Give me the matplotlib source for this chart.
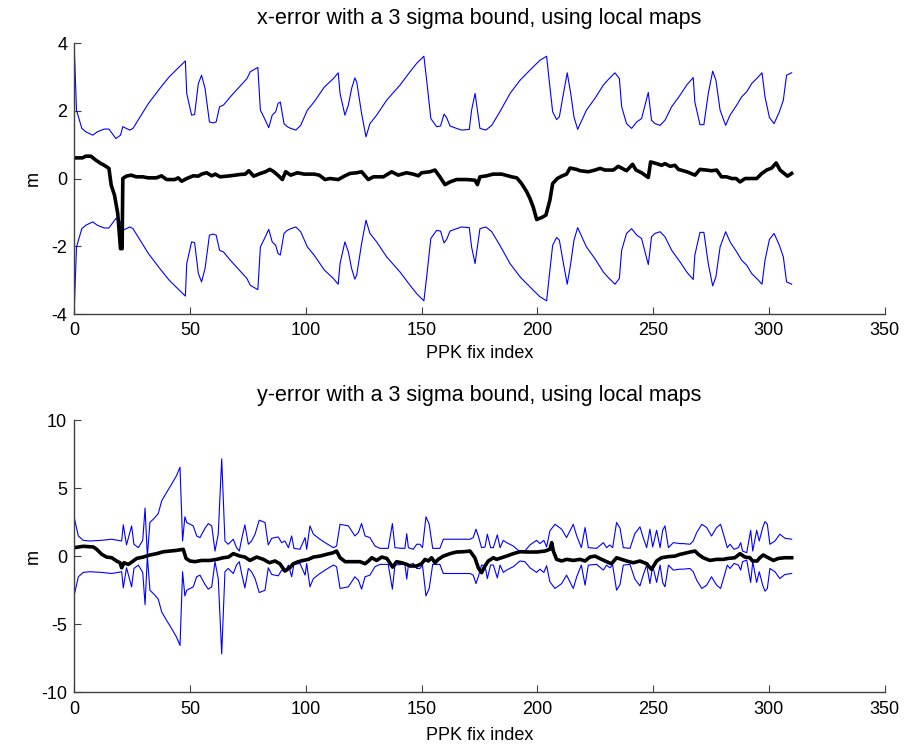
import matplotlib
matplotlib.use("Agg")
import matplotlib.pyplot as plt

# ---- x-error panel -------------------------------------------------------
# 3 sigma bound (upper half), read off the plot as breakpoints
sx_idx = [0, 1, 3.3, 5, 8, 10, 13, 15, 18, 20, 21, 24, 25.4, 28, 32, 37, 41, 44, 48,
          48.6, 50.7, 52, 53.6, 55, 56.5, 58.4, 60, 61.3, 62.8, 64.5, 67.4, 71.7, 74.6,
          76, 79.3, 80.4, 82.2, 84, 85.5, 87, 88, 89, 90.6, 92, 93.5, 95.7, 97.8, 100.7,
          103.6, 108, 111.9, 114.0, 114.8, 116.9, 118.4, 119.8, 121.2, 122.0, 124.1,
          126.0, 127.7, 130.6, 134.9, 140.7, 145.0, 147.9, 151.0, 152.2, 154.0, 156.5,
          158.2, 159.7, 160.8, 162.3, 165.1, 167.3, 170.6, 171.6, 173.1, 174.1, 175.2,
          177.8, 180.3, 183.8, 188.2, 192.5, 196.8, 201.1, 204.0, 205.1, 206.6, 208.3,
          209.5, 211.0, 212.9, 214.4, 215.8, 217.4, 221.2, 224.8, 228.5, 230.6, 233.5,
          235.4, 236.4, 238.5, 240.7, 242.9, 245, 246.5, 247.9, 249.3, 250.8, 253, 255.1,
          258, 261.6, 264.5, 267.3, 268, 270.2, 271.9, 273.8, 275.7, 277.1, 278.9, 281.3,
          283.2, 286.1, 288.2, 290.4, 292.5, 295.4, 297, 298.3, 300.2, 302.2, 304.5,
          306.2, 307.6, 309.8]
sx_val = [3.92, 2.02, 1.48, 1.38, 1.28, 1.38, 1.46, 1.46, 1.18, 1.28, 1.53, 1.43, 1.48,
          1.77, 2.21, 2.66, 3.0, 3.2, 3.47, 2.51, 1.87, 1.89, 2.8, 3.05, 2.66, 1.67, 1.64,
          1.67, 2.12, 2.17, 2.41, 2.73, 2.95, 3.15, 3.28, 2.02, 1.77, 1.5, 1.87, 1.97,
          2.21, 2.26, 1.62, 1.53, 1.48, 1.43, 1.57, 2.02, 2.26, 2.7, 2.95, 3.12, 2.51,
          1.87, 2.17, 2.66, 2.97, 2.85, 1.92, 1.23, 1.62, 1.87, 2.31, 2.76, 3.15, 3.4,
          3.61, 2.9, 1.77, 1.53, 1.55, 1.9, 1.8, 1.55, 1.48, 1.43, 1.45, 2.02, 2.51, 2.02,
          1.48, 1.43, 1.57, 1.97, 2.51, 2.9, 3.2, 3.49, 3.61, 2.9, 1.97, 1.74, 1.82, 2.41,
          3.12, 2.51, 1.82, 1.45, 2.02, 2.36, 2.76, 2.92, 3.12, 2.95, 2.12, 1.62, 1.48,
          1.67, 1.77, 2.17, 2.54, 1.72, 1.62, 1.57, 1.72, 2.12, 2.46, 2.76, 2.98, 2.26,
          1.59, 1.59, 2.51, 3.17, 2.9, 2.02, 1.57, 1.87, 2.17, 2.41, 2.56, 2.8, 3.0, 3.12,
          2.41, 1.8, 1.62, 1.97, 2.31, 3.05, 3.12]

# x-error
ex_idx = [0, 3.6, 5, 7.2, 9.4, 11.6, 13, 15, 16, 17.4, 18.8, 20, 20.7, 21, 22.5, 24.6,
          26.8, 29.7, 31.9, 35.5, 37.7, 39.9, 43.5, 44.9, 46.4, 48.6, 51.4, 53.6, 55,
          57.2, 59.4, 60.9, 63, 67.4, 71.7, 73.9, 75.4, 77.5, 80.4, 82.6, 84.5, 86.2,
          88.4, 89.9, 91.3, 93.5, 96.4, 99.3, 103.6, 105.8, 108.3, 110.4, 114.0, 116.9,
          119.1, 122.0, 124.1, 127.0, 129.2, 133.5, 137.1, 139.9, 143.5, 146.4, 148.6,
          150.0, 153.6, 155.8, 157.9, 160.1, 162.3, 165.1, 169.5, 173.1, 174.1, 175.2,
          178.1, 180.9, 184.6, 188.9, 191.1, 193.2, 195.4, 196.8, 198.2, 199.7, 201.9,
          203.7, 205.4, 206.6, 208.6, 210.5, 212.6, 214.1, 216.9, 218.4, 222, 224.9,
          227.1, 229.2, 232.8, 234.9, 238.5, 241.1, 242.6, 245, 247.9, 248.9, 251.5,
          253.7, 255.1, 257.3, 259.4, 260.9, 264.5, 268.1, 270.2, 273, 275.2, 277.4,
          279.5, 281.7, 283.9, 285.8, 287.5, 289.7, 294.7, 296.9, 299, 301.2, 303.1,
          304.8, 306.2, 308, 309.8]
ex_val = [0.61, 0.61, 0.66, 0.66, 0.54, 0.44, 0.39, 0.3, -0.2, -0.49, -1.03, -2.07, -2.07,
          0.0, 0.07, 0.1, 0.05, 0.05, 0.02, 0.02, 0.08, -0.03, -0.03, 0.02, -0.08, 0.0,
          0.08, 0.07, 0.13, 0.17, 0.08, 0.13, 0.05, 0.08, 0.12, 0.13, 0.23, 0.07, 0.15,
          0.2, 0.27, 0.2, 0.07, -0.03, 0.2, 0.1, 0.17, 0.13, 0.13, 0.1, -0.03, 0.0, -0.03,
          0.08, 0.15, 0.17, 0.2, -0.03, 0.05, 0.05, 0.2, 0.1, 0.17, 0.13, 0.08, 0.17, 0.2,
          0.25, 0.05, -0.18, -0.1, -0.03, -0.03, -0.05, -0.18, 0.05, 0.08, 0.13, 0.13,
          0.05, 0.02, -0.15, -0.39, -0.59, -0.84, -1.21, -1.15, -1.08, -0.64, -0.15, 0.0,
          0.07, 0.13, 0.31, 0.27, 0.23, 0.2, 0.25, 0.3, 0.25, 0.25, 0.36, 0.23, 0.42,
          0.25, 0.17, 0.03, 0.49, 0.44, 0.39, 0.44, 0.36, 0.39, 0.27, 0.2, 0.1, 0.27,
          0.25, 0.23, 0.25, 0.05, 0.05, 0.0, 0.0, -0.1, 0.0, 0.0, 0.15, 0.25, 0.31, 0.46,
          0.25, 0.17, 0.07, 0.15]

# ---- y-error panel -------------------------------------------------------
sy_idx = [0, 1.8, 3.9, 6.8, 11.9, 16.2, 20.5, 21.2, 22.6, 24.8, 25.8, 27.7, 29.6, 30.6,
          31.6, 32.7, 34.9, 36.3, 37.8, 39.9, 42.1, 44.2, 45.7, 46.8, 47.8, 48.6, 51.4,
          52.9, 54.3, 56.5, 57.9, 59.4, 60.8, 62.2, 63.7, 65.1, 66.5, 68.7, 70.1, 71.3,
          72.3, 73.7, 75.2, 76.6, 78.1, 79.9, 82.4, 83.8, 85.3, 88.1, 89.6, 91, 92.5,
          93.9, 94.9, 97.5, 99.7, 100.4, 101.8, 103.3, 106.1, 109, 111.9, 113.3, 114.8,
          118.4, 121.2, 122.7, 124.1, 125.6, 127.7, 129.9, 132, 135.6, 137.4, 138.5,
          141.4, 142.8, 143.6, 144.3, 146.4, 147.9, 149.3, 150.4, 151.9, 153.3, 154.8,
          157.9, 159.4, 170.9, 172.3, 173.5, 174.5, 175.9, 177.4, 178.4, 179.8, 181,
          182.7, 183.9, 185.3, 186.7, 189.6, 192.5, 194.6, 196.8, 199.7, 201.1, 202.8,
          204, 205.4, 207.6, 210.5, 212.6, 215.5, 217, 219, 220.6, 222, 225.6, 228.5,
          229.9, 231.3, 232.5, 234.2, 235.7, 237.1, 240, 242.1, 244.3, 245.7, 247.2,
          248.6, 249.8, 251.5, 253, 254.1, 255.1, 256.6, 258.7, 261.6, 263, 265.9, 267.3,
          268.8, 271, 273.1, 275.2, 277.4, 279.1, 281, 282, 283.2, 284.9, 286.8, 287.8,
          288.6, 290.4, 292.1, 293, 294.7, 295.8, 297.3, 298.3, 299.3, 300.4, 302.6,
          304.7, 306.9, 309.8]
sy_val = [2.86, 1.5, 1.18, 1.13, 1.18, 1.26, 1.13, 2.32, 0.84, 2.24, 0.89, 0.64, 1.18,
          3.55, 0.0, 2.49, 2.86, 3.15, 4.09, 4.7, 5.32, 5.94, 6.55, 1.13, 2.91, 2.49, 2.24,
          1.5, 1.38, 2.07, 2.41, 2.24, 0.39, 1.63, 7.17, 1.13, 0.89, 1.26, 0.64, 0.39,
          1.26, 2.32, 0.89, 1.13, 1.63, 2.66, 2.49, 0.84, 1.33, 1.43, 1.01, 1.13, 0.64,
          1.5, 0.59, 0.52, 1.38, 0.52, 2.24, 1.63, 1.26, 0.94, 0.64, 0.76, 2.36, 2.24,
          1.5, 1.75, 2.41, 1.5, 1.38, 0.76, 0.59, 0.59, 2.41, 0.64, 0.59, 0.59, 1.67, 0.64,
          0.52, 0.89, 0.89, 0.64, 2.91, 2.36, 0.59, 0.59, 1.26, 1.26, 1.38, 2.0, 1.5, 0.64,
          0.69, 1.63, 0.64, 0.64, 1.58, 0.64, 1.18, 1.01, 0.76, 0.34, 0.39, 0.84, 1.18,
          0.94, 1.18, 0.69, 1.87, 2.36, 2.0, 1.38, 2.36, 1.5, 0.64, 2.12, 0.64, 0.59, 1.01,
          0.64, 0.84, 0.64, 2.49, 2.07, 0.64, 0.59, 1.67, 2.17, 1.38, 0.64, 2.0, 0.69,
          1.92, 0.64, 1.92, 2.24, 0.64, 1.01, 0.94, 0.94, 0.89, 1.13, 1.75, 2.36, 2.12,
          1.5, 2.12, 2.36, 1.26, 0.64, 0.89, 0.52, 0.64, 1.01, 0.39, 0.27, 1.92, 0.39,
          1.92, 1.13, 2.12, 2.56, 2.36, 0.89, 1.13, 1.63, 1.33, 1.26]

ey_idx = [0, 3.9, 8.3, 9.7, 11.9, 14, 16.2, 18.3, 19.8, 20.5, 21.5, 23.4, 25.5, 27, 29.8,
          32.7, 35.6, 38.5, 41.4, 44.2, 47.1, 48.3, 50, 52.2, 55, 58.6, 61.5, 64.4, 66.6,
          68.7, 71.6, 73.7, 75.9, 78.8, 81.7, 84.3, 86.7, 88.8, 91, 93.1, 94.6, 96.8,
          98.9, 101.1, 103.3, 106.1, 109, 111.9, 113.3, 114.8, 117, 119.8, 123.4, 125.6,
          127.1, 128.5, 130.6, 132.8, 135, 137.5, 139.2, 141.4, 143.6, 145, 147.9, 150,
          151.5, 152.9, 154.3, 155.8, 157.2, 159.4, 162.3, 165.1, 168, 170.9, 173, 174.5,
          175.9, 177.4, 178.8, 181, 182.4, 184.6, 186.7, 189.6, 192.5, 196.1, 199.7,
          203.3, 205.4, 206.2, 206.9, 208.3, 210.5, 212.6, 215.5, 218.4, 220.6, 222.7,
          224.9, 227.7, 229.9, 232, 234.2, 236.4, 238.5, 241.4, 244.3, 247.2, 249.3,
          251.5, 253.6, 256.5, 259.4, 261.6, 263, 265.9, 268.1, 269.5, 271.6, 274.5,
          277.4, 280.3, 282.4, 285.3, 287.5, 289.6, 291.8, 292.9, 294.9, 296.1, 297.5,
          299.7, 301.9, 304.1, 306.9, 309.8]
ey_val = [0.64, 0.74, 0.69, 0.52, 0.15, -0.05, -0.1, -0.34, -0.47, -0.84, -0.47, -0.59,
          -0.34, -0.15, -0.05, 0.1, 0.2, 0.34, 0.39, 0.44, 0.52, -0.15, -0.34, -0.39, -0.3,
          -0.3, -0.22, -0.1, -0.05, 0.2, 0.02, -0.05, -0.3, -0.05, -0.22, -0.47, -0.34,
          -0.54, -1.08, -0.84, -0.54, -0.39, -0.3, -0.22, -0.05, 0.02, 0.15, 0.27, 0.39,
          -0.1, -0.39, -0.39, -0.39, -0.54, -0.34, -0.1, -0.3, -0.05, -0.15, -0.79, -0.39,
          -0.47, -0.59, -0.71, -0.71, -0.54, -0.22, -0.34, -0.1, -0.47, -0.22, 0.02, 0.2,
          0.32, 0.34, 0.39, -0.1, -0.84, -1.2, -0.71, -0.34, -0.1, -0.22, -0.1, 0.02, 0.2,
          0.34, 0.32, 0.32, 0.39, 0.52, 1.01, 0.39, -0.22, -0.34, -0.22, -0.3, -0.22,
          -0.34, -0.05, 0.02, -0.22, -0.39, -0.54, -0.1, -0.22, -0.34, -0.47, -0.34,
          -0.54, -0.96, -0.34, -0.1, -0.02, 0.02, 0.15, 0.2, 0.32, 0.39, 0.15, -0.1, -0.3,
          -0.22, -0.22, -0.15, -0.1, 0.2, -0.05, -0.1, -0.34, -0.34, -0.1, 0.1, -0.1,
          -0.3, -0.15, -0.1, -0.1]

titles = ["x-error with a 3 sigma bound, using local maps",
          "y-error with a 3 sigma bound, using local maps"]
yticks = [[-4, -2, 0, 2, 4], [-10, -5, 0, 5, 10]]
xticks = [0, 50, 100, 150, 200, 250, 300, 350]

plt.rcParams['font.family'] = ['Liberation Sans', 'DejaVu Sans']
plt.rcParams['font.size'] = 13
plt.rcParams['axes.unicode_minus'] = False

fig = plt.figure(figsize=(9.08, 7.52), dpi=100)
ax1 = fig.add_axes([0.0817, 0.5824, 0.8927, 0.3604])
ax2 = fig.add_axes([0.0817, 0.0793, 0.8927, 0.3617])

panels = [(ax1, sx_idx, sx_val, ex_idx, ex_val),
          (ax2, sy_idx, sy_val, ey_idx, ey_val)]
for k, (ax, si, sv, ei, ev) in enumerate(panels):
    ax.plot(si, sv, color='#0000ff', lw=0.8)
    ax.plot(si, [-v for v in sv], color='#0000ff', lw=0.8)
    ax.plot(ei, ev, color='black', lw=2.6)
    ax.set_xlim(0, 350)
    ax.set_ylim(yticks[k][0], yticks[k][-1])
    ax.set_xticks(xticks)
    ax.set_yticks(yticks[k])
    ax.spines['top'].set_visible(False)
    ax.spines['right'].set_visible(False)
    for s in ('left', 'bottom'):
        ax.spines[s].set_color('#404040')
        ax.spines[s].set_linewidth(1.0)
    ax.tick_params(direction='in', length=5, color='#404040')
    ax.tick_params(axis='x', pad=6)
    ax.tick_params(axis='y', pad=5)
    ax.set_title(titles[k], fontsize=15.5, pad=14)
    ax.set_xlabel('PPK fix index', labelpad=4 + 3 * k)
    ax.set_ylabel('m')
    ax.yaxis.set_label_coords(-0.04, 0.5)

fig.savefig('out.png', dpi=100)
